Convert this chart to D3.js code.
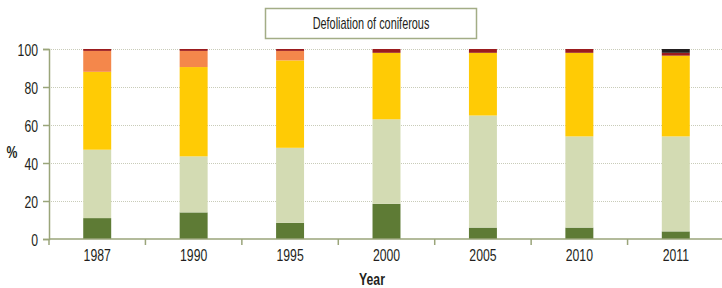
<!DOCTYPE html>
<html>
<head>
<meta charset="utf-8">
<script src="https://cdn.jsdelivr.net/npm/d3@7"></script>
<style>
  body { margin: 0; background: #fff; }
  text { font-family: "Liberation Sans", Arial, sans-serif; fill: #231f20; }
</style>
</head>
<body>
<script>
// years on the x axis
const years = ["1987", "1990", "1995", "2000", "2005", "2010", "2011"];

// defoliation classes, bottom to top (% of trees)
const class0 = [11, 14, 8.5, 18.5, 6, 6, 4];
const class1 = [36, 29.5, 39.5, 44.5, 59, 48, 50];
const class2 = [41, 47, 46, 35, 33, 44, 42.5];
const class3 = [11, 8.5, 5, 0, 0, 0, 0];
const class4 = [1, 1, 1, 2, 2, 2, 1.5];
const class5 = [0, 0, 0, 0, 0, 0, 2];

const classNames = ["class0", "class1", "class2", "class3", "class4", "class5"];
const classColors = ["#5e7b35", "#d3dbb3", "#ffcb05", "#f4874b", "#9b1b1e", "#231f20"];
const yTicks = [0, 20, 40, 60, 80, 100];

// condensed look: squeeze text horizontally
function label(sel, px, py, size, squeeze){
    return sel.append("text")
        .attr("transform", "translate(" + px + "," + py + ") scale(" + (squeeze || 0.72) + ",1)")
        .style("font-size", size + "px");
}

function main(){
    const width = 722;
    const height = 288;
    const margin = {top: 49, right: 0, bottom: 49, left: 49};

    const svg = d3.select("body").append("svg")
        .attr("width", width)
        .attr("height", height);

    const rows = years.map(function(y, i){
        return {year: y, class0: class0[i], class1: class1[i], class2: class2[i],
                class3: class3[i], class4: class4[i], class5: class5[i]};
    });

    const x = d3.scaleBand()
        .domain(years)
        .range([margin.left, 724])
        .paddingInner(0.71)
        .paddingOuter(0.355);

    const y = d3.scaleLinear()
        .domain([0, 100])
        .range([height - margin.bottom, margin.top]);

    // dotted grid
    svg.append("g")
        .selectAll("line")
        .data(yTicks.filter(d => d > 0))
        .enter().append("line")
        .attr("x1", margin.left)
        .attr("x2", width)
        .attr("y1", d => y(d) + 0.5)
        .attr("y2", d => y(d) + 0.5)
        .attr("stroke", "#c9ccb9")
        .attr("stroke-dasharray", "1,1");

    const stack = d3.stack().keys(classNames);
    const series = stack(rows);

    svg.append("g")
        .selectAll("g")
        .data(series)
        .enter().append("g")
        .attr("fill", (d, i) => classColors[i])
        .selectAll("rect")
        .data(d => d)
        .enter().append("rect")
        .attr("x", d => x(d.data.year))
        .attr("width", x.bandwidth())
        .attr("y", d => y(d[1]))
        .attr("height", d => y(d[0]) - y(d[1]));

    // y axis
    const yAxis = svg.append("g")
        .attr("transform", "translate(" + margin.left + ",0)")
        .call(d3.axisLeft(y).tickValues(yTicks).tickSize(6).tickFormat(""));
    yAxis.selectAll("path, line").attr("stroke", "#9aa57a").attr("stroke-width", 1.5);
    yTicks.forEach(function(t){
        label(svg, margin.left - 11, y(t) + 7, 17)
            .attr("text-anchor", "end")
            .text(t);
    });

    // x axis with ticks between bands
    const xAxis = svg.append("g")
        .attr("transform", "translate(0," + y(0) + ")");
    xAxis.append("line")
        .attr("x1", margin.left).attr("x2", width)
        .attr("stroke", "#9aa57a").attr("stroke-width", 1.5);
    xAxis.selectAll(".tk")
        .data(years)
        .enter().append("line")
        .attr("class", "tk")
        .attr("x1", d => x(d) - x.step() * x.paddingOuter())
        .attr("x2", d => x(d) - x.step() * x.paddingOuter())
        .attr("y1", 0).attr("y2", 6)
        .attr("stroke", "#9aa57a").attr("stroke-width", 1.5);
    years.forEach(function(yr){
        label(svg, x(yr) + x.bandwidth() / 2, y(0) + 22, 17)
            .attr("text-anchor", "middle")
            .text(yr);
    });

    label(svg, 372, 285, 17)
        .attr("text-anchor", "middle")
        .style("font-weight", "bold")
        .text("Year");

    label(svg, 12, 158, 17)
        .attr("text-anchor", "middle")
        .style("font-weight", "bold")
        .text("%");

    // title box
    svg.append("rect")
        .attr("x", 265.5).attr("y", 8.5)
        .attr("width", 211).attr("height", 30)
        .attr("fill", "#fff")
        .attr("stroke", "#a3ad86")
        .attr("stroke-width", 1.5);
    label(svg, 371, 29, 17, 0.64)
        .attr("text-anchor", "middle")
        .text("Defoliation of coniferous");
}
main();
</script>
</body>
</html>
